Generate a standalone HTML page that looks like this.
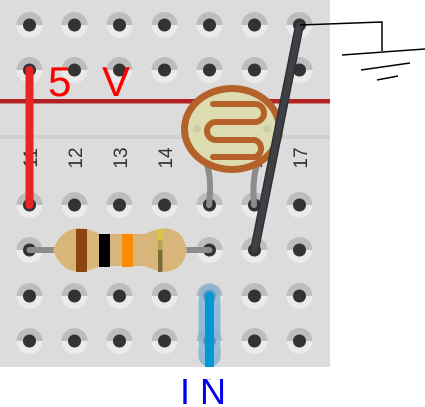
<!DOCTYPE html>
<html><head><meta charset="utf-8"><style>
html,body{margin:0;padding:0;background:#fff;width:425px;height:407px;overflow:hidden}
svg{display:block}
</style></head><body>
<svg width="425" height="407" viewBox="0 0 425 407">
<rect x="0" y="0" width="330" height="367" fill="#dcdcdc"/>
<rect x="0" y="135" width="330" height="4" fill="#d0d0d0"/>
<rect x="0" y="99" width="330" height="4.5" fill="#b22222"/>
<g id="holes"></g>
<g font-family="Liberation Sans, sans-serif" font-size="19" fill="#333">
<text transform="translate(37,158) rotate(-90)" text-anchor="middle">11</text>
<text transform="translate(82,158) rotate(-90)" text-anchor="middle">12</text>
<text transform="translate(127,158) rotate(-90)" text-anchor="middle">13</text>
<text transform="translate(172,158) rotate(-90)" text-anchor="middle">14</text>
<text transform="translate(217,158) rotate(-90)" text-anchor="middle">15</text>
<text transform="translate(262,158) rotate(-90)" text-anchor="middle">16</text>
<text transform="translate(307,158) rotate(-90)" text-anchor="middle">17</text>
</g>
<path d="M207,165 Q212,180 209,205" stroke="#8c8c8c" stroke-width="6" fill="none" stroke-linecap="round"/>
<path d="M257,165 Q252,180 254,205" stroke="#8c8c8c" stroke-width="6" fill="none" stroke-linecap="round"/>
<line x1="29.5" y1="70" x2="29.5" y2="205" stroke="#e82424" stroke-width="8" stroke-linecap="round"/>
<line x1="29.5" y1="250" x2="209.5" y2="250" stroke="#8c8c8c" stroke-width="6" stroke-linecap="round"/>
<path d="M53,250 C56,242 60,236 66,232 C76,226 88,228 100,234 L145,234 C157,228 169,226 177,232 C183,236 185,242 187,250 C185,258 183,264 177,268 C169,274 157,272 145,266 L100,266 C88,272 76,274 66,268 C60,264 56,258 53,250 Z" fill="#d9b57a"/>
<rect x="76" y="229" width="11" height="43" fill="#8b4513"/>
<rect x="99" y="234" width="11" height="33" fill="#000"/>
<rect x="122" y="234" width="11" height="33" fill="#ff8c00"/>
<rect x="158" y="229" width="4.5" height="11" fill="#d8c840"/>
<rect x="158" y="240" width="4.5" height="10" fill="#b8a450"/>
<rect x="158" y="250" width="4.5" height="22" fill="#7a6a38"/>
<ellipse cx="232" cy="129" rx="51" ry="44" fill="#b5612a"/>
<ellipse cx="232" cy="129" rx="44" ry="37" fill="#dcdcb0"/>
<path d="M213,104 H255 A9,9 0 0 1 255,122 H216 A9,9 0 0 0 216,140 H255 A9,9 0 0 1 255,157 H213" stroke="#b5612a" stroke-width="6" fill="none" stroke-linecap="round"/>
<circle cx="197" cy="129" r="4" fill="#ccccaa"/>
<circle cx="267" cy="129" r="4" fill="#ccccaa"/>
<line x1="299.5" y1="25" x2="254.5" y2="250" stroke="#2e3134" stroke-width="9" stroke-linecap="round"/>
<line x1="299.5" y1="25" x2="254.5" y2="250" stroke="#3d4145" stroke-width="6" stroke-linecap="round"/>
<rect x="198.5" y="284" width="22" height="83" rx="11" fill="#7fb2d6" opacity="0.8"/>
<line x1="209.5" y1="296" x2="209.5" y2="375" stroke="#0099d6" stroke-width="9" stroke-linecap="round"/>
<rect x="190" y="367" width="40" height="12" fill="#fff"/>
<g stroke="#000" stroke-width="1.5" fill="none">
<path d="M300,25 L382,22 L382,51"/>
<path d="M342,55 L425,49"/>
<path d="M361,70 L410,63"/>
<path d="M377,80 L398,76"/>
</g>
<text x="48" y="96" font-family="Liberation Sans, sans-serif" font-size="42" fill="#ff0000" textLength="82" lengthAdjust="spacing">5 V</text>
<text x="180" y="404" font-family="Liberation Sans, sans-serif" font-size="36" fill="#0000ee">I N</text>
</svg>
<script>
const cols=[29.5,74.5,119.5,164.5,209.5,254.5,299.5];
const rows=[25,70,205,250,296,341];
const g=document.getElementById('holes');
const NS='http://www.w3.org/2000/svg';
rows.forEach(y=>cols.forEach(x=>{
  const a=document.createElementNS(NS,'path');
  a.setAttribute('d',`M${x-13},${y} A13,13 0 0 1 ${x+13},${y} Z`);
  a.setAttribute('fill','#bdbdbd');
  
  
  g.appendChild(a);
  const b=document.createElementNS(NS,'path');
  b.setAttribute('d',`M${x-13},${y} A13,13 0 0 0 ${x+13},${y} Z`);
  b.setAttribute('fill','#ebebeb');
  
  
  g.appendChild(b);
  const c=document.createElementNS(NS,'circle');
  c.setAttribute('cx',x);c.setAttribute('cy',y);c.setAttribute('r',6.5);
  c.setAttribute('fill','#333');
  
  
  g.appendChild(c);
}));
</script>
</body></html>
